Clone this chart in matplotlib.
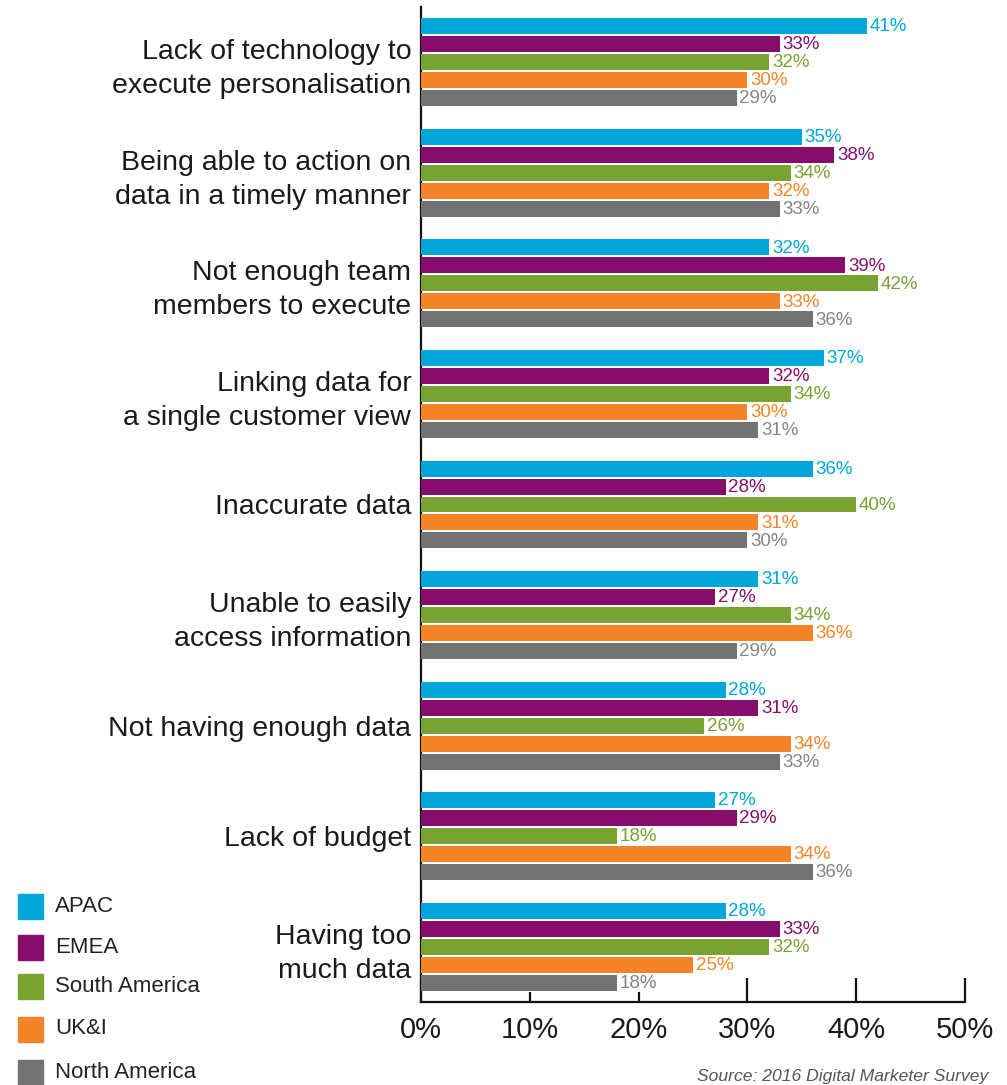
import matplotlib
matplotlib.use("Agg")
import matplotlib.pyplot as plt
from matplotlib import font_manager
from matplotlib.patches import Rectangle

# ---- data -------------------------------------------------------------
categories = [
    "Lack of technology to\nexecute personalisation",
    "Being able to action on\ndata in a timely manner",
    "Not enough team\nmembers to execute",
    "Linking data for\na single customer view",
    "Inaccurate data",
    "Unable to easily\naccess information",
    "Not having enough data",
    "Lack of budget",
    "Having too\nmuch data",
]
series_names = ["APAC", "EMEA", "South America", "UK&I", "North America"]
apac = [41, 35, 32, 37, 36, 31, 28, 27, 28]
emea = [33, 38, 39, 32, 28, 27, 31, 29, 33]
south_america = [32, 34, 42, 34, 40, 34, 26, 18, 32]
uki = [30, 32, 33, 30, 31, 36, 34, 34, 25]
north_america = [29, 33, 36, 31, 30, 29, 33, 36, 18]
series_values = [apac, emea, south_america, uki, north_america]
x_ticks = [0, 10, 20, 30, 40, 50]
x_tick_labels = ["0%", "10%", "20%", "30%", "40%", "50%"]
source_note = "Source: 2016 Digital Marketer Survey"

# ---- style --------------------------------------------------------------
bar_colors = ["#00a6d9", "#860d6b", "#78a232", "#f58428", "#737373"]
label_colors = ["#00a6d9", "#860d6b", "#78a232", "#f58428", "#858585"]

installed = {f.name for f in font_manager.fontManager.ttflist}
base_font = "Liberation Sans" if "Liberation Sans" in installed else "DejaVu Sans"
narrow_font = "Liberation Sans Narrow" if "Liberation Sans Narrow" in installed else base_font
plt.rcParams["font.family"] = [base_font, "DejaVu Sans"]

W, H = 1007, 1085
fig = plt.figure(figsize=(W / 100, H / 100), dpi=100)
ax_left, ax_right, ax_top, ax_bottom = 421, 965, 7, 1002
ax = fig.add_axes([ax_left / W, 1 - ax_bottom / H,
                   (ax_right - ax_left) / W, (ax_bottom - ax_top) / H])

group_px = 110.6
pitch = 18 / group_px
bar_h = 16 / group_px
n_series = len(series_values)

for j, (vals, col, lcol) in enumerate(zip(series_values, bar_colors, label_colors)):
    ys = [i + (j - (n_series - 1) / 2) * pitch for i in range(len(categories))]
    ax.barh(ys, vals, height=bar_h, color=col, zorder=3)
    for y, v in zip(ys, vals):
        ax.annotate(f"{v}%", xy=(v, y), xytext=(2, -0.5), textcoords="offset points",
                    va="center", ha="left", color=lcol, fontsize=13.5,
                    family=[narrow_font, "DejaVu Sans"], zorder=4)

ax.set_xlim(0, 50)
ax.set_ylim(len(categories) - 0.5, -0.5)

for s in ["top", "right"]:
    ax.spines[s].set_visible(False)
for s in ["left", "bottom"]:
    ax.spines[s].set_linewidth(1.6)
    ax.spines[s].set_color("#111111")
    ax.spines[s].set_capstyle("projecting")

ax.set_yticks(range(len(categories)))
ax.set_yticklabels(categories, fontsize=20.5, color="#1a1a1a", linespacing=1.4)
ax.tick_params(axis="y", length=0, pad=7)

ax.set_xticks(x_ticks)
ax.set_xticklabels(x_tick_labels, fontsize=21, color="#1a1a1a",
                   family=[narrow_font, "DejaVu Sans"])
ax.tick_params(axis="x", direction="in", length=17, width=1.6, color="#111111", pad=10)
for tick, val in zip(ax.xaxis.get_major_ticks(), x_ticks):
    if val in (10, 20):
        tick.tick1line.set_markersize(7)
    tick.tick1line.set_zorder(1)

# legend swatches down the lower-left corner
legend_y = [906, 947.5, 986.5, 1029, 1072.5]
for name, col, yc in zip(series_names, bar_colors, legend_y):
    fig.patches.append(Rectangle((18 / W, 1 - (yc + 12.5) / H), 25 / W, 25 / H,
                                 transform=fig.transFigure, color=col))
    fig.text(55 / W, 1 - yc / H, name, fontsize=16, color="#222222",
             va="center", ha="left")

fig.text(988 / W, 1 - 1076 / H, source_note, fontsize=12.6, style="italic",
         color="#555555", ha="right", va="center",
         family=[narrow_font, "DejaVu Sans"])

fig.savefig("out.png", dpi=100)
